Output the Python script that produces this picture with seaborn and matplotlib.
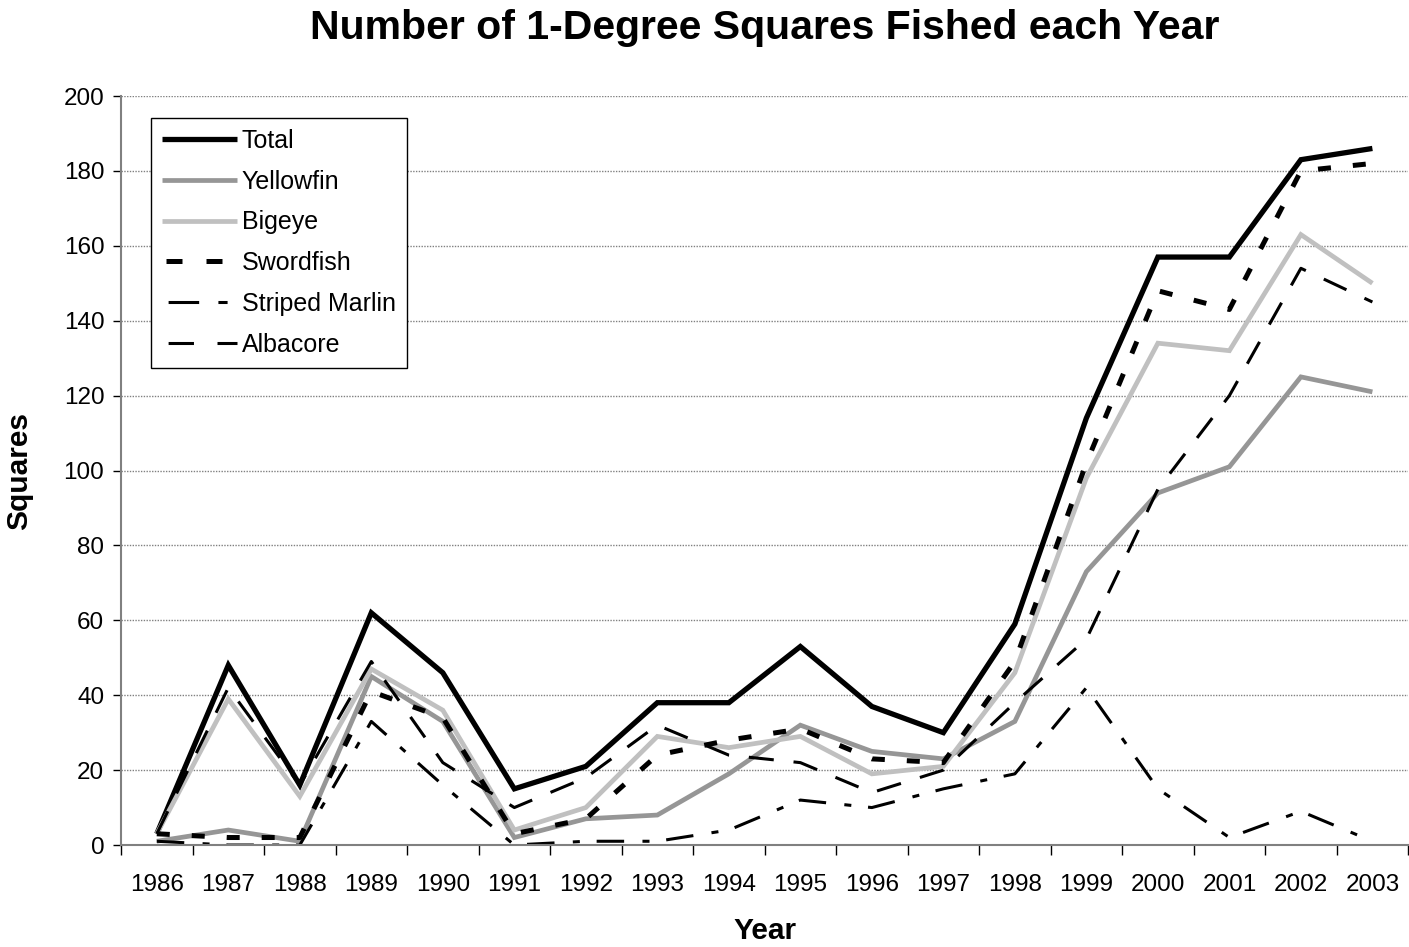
import matplotlib
matplotlib.use("Agg")
import matplotlib.pyplot as plt
import seaborn as sns
import pandas as pd
import numpy as np

years = [1986, 1987, 1988, 1989, 1990, 1991, 1992, 1993, 1994,
         1995, 1996, 1997, 1998, 1999, 2000, 2001, 2002, 2003]

total          = [3, 48, 16, 62, 46, 15, 21, 38, 38, 53, 37, 30, 59, 114, 157, 157, 183, 186]
yellowfin      = [1, 4, 1, 45, 33, 2, 7, 8, 19, 32, 25, 23, 33, 73, 94, 101, 125, 121]
bigeye         = [3, 39, 13, 47, 36, 4, 10, 29, 26, 29, 19, 21, 46, 98, 134, 132, 163, 150]
swordfish      = [3, 2, 2, 41, 34, 3, 7, 24, 28, 31, 23, 22, 49, 102, 148, 143, 180, 182]
striped_marlin = [1, 0, 0, 33, 16, 0, 1, 1, 4, 12, 10, 15, 19, 42, 15, 2, 9, 1]
albacore       = [3, 42, 16, 49, 22, 10, 18, 32, 24, 22, 14, 20, 38, 55, 95, 120, 154, 145]

series_names = ["Total", "Yellowfin", "Bigeye", "Swordfish", "Striped Marlin", "Albacore"]
series_vals = [total, yellowfin, bigeye, swordfish, striped_marlin, albacore]

styles = {
    "Total":          dict(color="#000000", lw=3.8, dashes=None, leg=None),
    "Yellowfin":      dict(color="#969696", lw=3.4, dashes=None, leg=None),
    "Bigeye":         dict(color="#C0C0C0", lw=3.4, dashes=None, leg=None),
    "Swordfish":      dict(color="#000000", lw=3.6, dashes=(2.6, 4.4),
                           leg=(7.2, (3.2, 4.8))),
    "Striped Marlin": dict(color="#000000", lw=2.2, dashes=(9, 6, 2.3, 5.5),
                           leg=(27.3, (10, 6.3, 3, 10))),
    "Albacore":       dict(color="#000000", lw=2.2, dashes=(8.2, 6.5),
                           leg=(14, (8.3, 7.7))),
}

sns.set_theme(style="white")
plt.rcParams["font.family"] = ["Liberation Sans", "DejaVu Sans"]
plt.rcParams["text.color"] = "black"
plt.rcParams["axes.labelcolor"] = "black"
plt.rcParams["xtick.color"] = "black"
plt.rcParams["ytick.color"] = "black"

fig = plt.figure(figsize=(14.09, 9.47), dpi=100)
ax = fig.add_axes([0.0859, 0.1077, 0.9135, 0.7909])

idx = np.arange(len(years))
for name, vals in zip(series_names, series_vals):
    st = styles[name]
    df = pd.DataFrame({"x": idx, "y": vals})
    kw = dict(color=st["color"], linewidth=st["lw"], label=name)
    line_ax = sns.lineplot(data=df, x="x", y="y", ax=ax, **kw)
    ln = line_ax.get_lines()[-1]
    if st["dashes"] is not None:
        ln.set_dashes(st["dashes"])
    ln.set_solid_capstyle("butt")
    ln.set_dash_capstyle("butt")
    ln.set_solid_joinstyle("miter")

ax.set_xlim(-0.5, len(years) - 0.5)
ax.set_ylim(0, 200)
ax.set_yticks(range(0, 201, 20))
ax.set_xticks(idx)
ax.set_xticklabels([str(y) for y in years])
ax.set_xticks(np.arange(-0.5, len(years), 1.0), minor=True)
ax.tick_params(axis="x", which="major", length=0, pad=21, labelsize=17.5, colors="black")
ax.tick_params(axis="x", which="minor", length=7, width=1, color="black", direction="out")
ax.tick_params(axis="y", which="major", length=6, width=1, color="black", direction="out",
               labelsize=17.5, pad=6, labelcolor="black")
ax.tick_params(axis="both", bottom=True, left=True)
ax.xaxis.set_tick_params(which="minor", bottom=True)

ax.grid(axis="y", color="#808080", linestyle=(0, (1, 1)), linewidth=1)
ax.grid(axis="x", visible=False)
ax.set_axisbelow(True)

for s in ["top", "right"]:
    ax.spines[s].set_visible(False)
for s in ["left", "bottom"]:
    ax.spines[s].set_color("#808080")
    ax.spines[s].set_linewidth(1.5)

ax.set_xlabel("Year", fontsize=21.5, fontweight="bold", labelpad=15, color="black")
ax.set_ylabel("Squares", fontsize=21.5, fontweight="bold", labelpad=22, color="black")
fig.suptitle("Number of 1-Degree Squares Fished each Year", fontsize=29.5,
             fontweight="bold", x=0.5426, y=0.99, va="top", color="black")

leg = ax.legend(loc="upper left", bbox_to_anchor=(0.023, 0.971), fontsize=18,
                frameon=True, fancybox=False, handlelength=3.0, handletextpad=0.2,
                labelspacing=0.67, borderpad=0.45, borderaxespad=0)
leg.get_frame().set_edgecolor("black")
leg.get_frame().set_linewidth(1.0)
leg.get_frame().set_alpha(1)
for t in leg.get_texts():
    t.set_color("black")
for h, name in zip(leg.get_lines(), series_names):
    st = styles[name]
    if st["leg"] is not None:
        h.set_linestyle(st["leg"])
    h.set_dash_capstyle("butt")
    h.set_solid_capstyle("butt")

fig.savefig("out.png", dpi=100)
